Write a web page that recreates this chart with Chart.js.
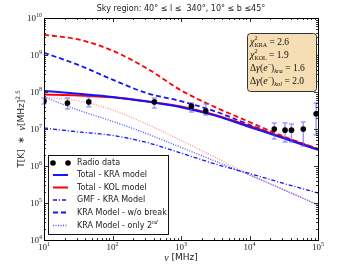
<!DOCTYPE html>
<html>
<head>
<meta charset="utf-8">
<script src="https://cdn.jsdelivr.net/npm/chart.js@4"></script>
<style>
html,body{margin:0;padding:0;background:#fff}
canvas{display:block}
</style>
</head>
<body>
<canvas id="chart" width="354" height="266"></canvas>
<script>
// radio data points (MHz, T*nu^2.5) with error range
const radioFreq = [10, 22, 45, 408, 1420, 2300, 23000, 33000, 41000, 61000, 94000]
const radioT = [5.7e7, 5.06e7, 5.4e7, 5.4e7, 4.15e7, 3.05e7, 9.95e6, 9.3e6, 9.3e6, 9.95e6, 2.56e7]
const radioHi = [6.9e7, 6.9e7, 7.35e7, 6.9e7, 5.06e7, 4.73e7, 1.45e7, 1.45e7, 1.36e7, 1.55e7, 5.06e7]
const radioLo = [4.73e7, 3.48e7, 3.97e7, 3.72e7, 2.86e7, 2.4e7, 5.38e6, 4.42e6, 4.42e6, 3.47e6, 6.85e6]

// model curves, read every half decade
const modelFreq = [10, 31.6, 100, 316, 1000, 3160, 10000, 31600, 100000]
const totalKRA = [1.07e8, 8.95e7, 7.35e7, 5.52e7, 3.89e7, 2.3e7, 1.135e7, 5.62e6, 2.72e6]
const totalKOL = [8.6e7, 8.1e7, 7.19e7, 5.65e7, 4.06e7, 2.4e7, 1.21e7, 5.87e6, 2.84e6]
const gmfKRA = [1.064e7, 8.36e6, 6.7e6, 4.33e6, 2.23e6, 1.13e6, 6.25e5, 3.38e5, 1.87e5]
const kraNoBreak = [1.146e9, 5.42e8, 2.16e8, 9.35e7, 5.65e7, 2.99e7, 1.3e7, 5.87e6, 2.79e6]
const kolNoBreak = [3.51e9, 2.64e9, 1.31e9, 4.36e8, 1.11e8, 3.89e7, 1.55e7, 6.28e6, 2.91e6]
const kraOnly2nd = [7.35e7, 3.26e7, 1.61e7, 7.48e6, 3.18e6, 1.35e6, 5.73e5, 2.28e5, 8.85e4]
const kolOnly2nd = [7.19e7, 5.77e7, 3.26e7, 1.36e7, 4.93e6, 1.72e6, 5.85e5, 2.28e5, 8.85e4]

const xTicks = [10, 100, 1000, 10000, 100000]
const yTicks = [1e4, 1e5, 1e6, 1e7, 1e8, 1e9, 1e10]

const titleText = "Sky region: 40° ≤ l ≤  340°, 10° ≤ b ≤45°"

const SERIF = '"Liberation Serif", serif'
const SANS = '"DejaVu Sans", sans-serif'
const BLUE = "rgb(20,20,255)"
const RED = "rgb(255,0,0)"

const pts = (xs, ys)=>xs.map((x,i)=>({x:x, y:ys[i]}))

function lineSet(label, ys, color, width, dash){
    return {label, data:pts(modelFreq, ys), showLine:true, borderColor:color, borderWidth:width,
        borderDash:dash||[], pointRadius:0, cubicInterpolationMode:"monotone", fill:false}
}

const datasets = [
    {label:"Radio data", data:pts(radioFreq, radioT), showLine:false, pointRadius:2.8,
        pointBackgroundColor:"#000", pointBorderColor:"#000", pointBorderWidth:0},
    lineSet("Total - KRA model", totalKRA, BLUE, 2),
    lineSet("Total - KOL model", totalKOL, RED, 2),
    lineSet("GMF - KRA Model", gmfKRA, BLUE, 1.3, [4,2,1,2]),
    lineSet("KRA Model - w/o break", kraNoBreak, BLUE, 1.8, [5,3]),
    lineSet("KOL Model - w/o break", kolNoBreak, RED, 1.8, [5,3]),
    lineSet("KRA Model - only 2nd", kraOnly2nd, "rgba(40,40,255,0.8)", 1.3, [1,1.5]),
    lineSet("KOL Model - only 2nd", kolOnly2nd, "rgba(255,60,60,0.55)", 1.3, [1,1.5])
]

// draw "10^n" label
function powLabel(ctx, v, x, y, align){
    const e = String(Math.round(Math.log10(v)))
    ctx.font = "9px " + SERIF
    const w1 = ctx.measureText("10").width
    ctx.font = "6px " + SERIF
    const w2 = ctx.measureText(e).width
    const x0 = align === "right" ? x - w1 - w2 : x - (w1 + w2) / 2
    ctx.textAlign = "left"
    ctx.textBaseline = "middle"
    ctx.fillStyle = "#222"
    ctx.font = "9px " + SERIF
    ctx.fillText("10", x0, y)
    ctx.font = "6px " + SERIF
    ctx.fillText(e, x0 + w1, y - 4)
}

// rich text: parts are {t, f, dy} or {sup, sub, f}
function richWidth(ctx, parts){
    let w = 0
    parts.forEach(p=>{
        ctx.font = p.f
        if(p.t !== undefined) w += ctx.measureText(p.t).width
        else w += Math.max(ctx.measureText(p.sup||"").width, ctx.measureText(p.sub||"").width)
    })
    return w
}
function drawRich(ctx, parts, x, y){
    ctx.textAlign = "left"
    ctx.textBaseline = "middle"
    parts.forEach(p=>{
        ctx.font = p.f
        if(p.t !== undefined){
            ctx.fillText(p.t, x, y + (p.dy||0))
            x += ctx.measureText(p.t).width
        }else{
            if(p.sup) ctx.fillText(p.sup, x, y - 4)
            if(p.sub) ctx.fillText(p.sub, x, y + 3.5)
            x += Math.max(ctx.measureText(p.sup||"").width, ctx.measureText(p.sub||"").width)
        }
    })
}

const decor = {
    id:"decor",
    beforeDatasetDraw(chart, args){
        if(args.index !== 0) return
        const ctx = chart.ctx, xs = chart.scales.x, ys = chart.scales.y
        ctx.save()
        ctx.strokeStyle = "rgba(90,90,255,0.6)"
        ctx.lineWidth = 1.5
        radioFreq.forEach((f,i)=>{
            const px = xs.getPixelForValue(f)
            const top = ys.getPixelForValue(radioHi[i]), bot = ys.getPixelForValue(radioLo[i])
            ctx.beginPath()
            ctx.moveTo(px, top); ctx.lineTo(px, bot)
            ctx.moveTo(px-2.5, top); ctx.lineTo(px+2.5, top)
            ctx.moveTo(px-2.5, bot); ctx.lineTo(px+2.5, bot)
            ctx.stroke()
        })
        ctx.restore()
    },
    afterDraw(chart){
        const ctx = chart.ctx, xs = chart.scales.x, ys = chart.scales.y
        const a = chart.chartArea
        ctx.save()
        // frame
        ctx.strokeStyle = "#000"
        ctx.lineWidth = 1
        ctx.strokeRect(Math.round(a.left)+0.5, Math.round(a.top)+0.5, Math.round(a.right-a.left), Math.round(a.bottom-a.top))
        // inward ticks on all sides
        ctx.lineWidth = 0.8
        ctx.beginPath()
        for(let d=1; d<=5; d++){
            for(let k=1; k<=9; k++){
                const v = k*Math.pow(10,d)
                if(v > 1e5) break
                const px = Math.round(xs.getPixelForValue(v))+0.5
                const len = k===1 ? 4 : 2
                ctx.moveTo(px, a.bottom); ctx.lineTo(px, a.bottom-len)
                ctx.moveTo(px, a.top); ctx.lineTo(px, a.top+len)
            }
        }
        for(let d=4; d<=10; d++){
            for(let k=1; k<=9; k++){
                const v = k*Math.pow(10,d)
                if(v > 1e10) break
                const py = Math.round(ys.getPixelForValue(v))+0.5
                const len = k===1 ? 4 : 2
                ctx.moveTo(a.left, py); ctx.lineTo(a.left+len, py)
                ctx.moveTo(a.right, py); ctx.lineTo(a.right-len, py)
            }
        }
        ctx.stroke()
        // tick labels
        yTicks.forEach(v=>powLabel(ctx, v, a.left-2, ys.getPixelForValue(v)+1, "right"))
        xTicks.forEach(v=>powLabel(ctx, v, xs.getPixelForValue(v), a.bottom+8, "center"))

        ctx.fillStyle = "#222"
        // title
        ctx.font = "8px " + SANS
        ctx.textAlign = "center"
        ctx.textBaseline = "middle"
        ctx.fillText(titleText, (a.left+a.right)/2, 9)
        // x label
        const xl = [{t:"ν", f:"italic 10px " + SERIF}, {t:" [MHz]", f:"9px " + SANS}]
        drawRich(ctx, xl, (a.left+a.right)/2 - richWidth(ctx, xl)/2, 258)
        // y label
        const yl = [{t:"T[K]  ∗  ", f:"9px " + SANS}, {t:"ν", f:"italic 10px " + SERIF},
            {t:"[MHz]", f:"9px " + SANS}, {t:"2.5", f:"6px " + SANS, dy:-4}]
        ctx.save()
        ctx.translate(22, (a.top+a.bottom)/2)
        ctx.rotate(-Math.PI/2)
        drawRich(ctx, yl, -richWidth(ctx, yl)/2, 0)
        ctx.restore()

        // legend
        const lx = 48, ly = 155, lw = 120, lh = 79
        ctx.fillStyle = "#fff"
        ctx.fillRect(lx, ly, lw, lh)
        ctx.strokeStyle = "#111"
        ctx.lineWidth = 1
        ctx.strokeRect(lx+0.5, ly+0.5, lw, lh)
        const rows = [163, 175, 187.5, 200, 212.5, 225.5]
        const order = [0, 1, 2, 3, 4, 6]
        order.forEach((di, r)=>{
            const ds = datasets[di], y = rows[r]
            if(di === 0){
                ctx.fillStyle = "#000"
                ;[53, 68].forEach(cx=>{ctx.beginPath(); ctx.arc(cx, y, 2.8, 0, Math.PI*2); ctx.fill()})
            }else{
                ctx.strokeStyle = ds.borderColor
                ctx.lineWidth = ds.borderWidth
                ctx.setLineDash(ds.borderDash)
                ctx.beginPath(); ctx.moveTo(53, y); ctx.lineTo(68, y); ctx.stroke()
                ctx.setLineDash([])
            }
            ctx.fillStyle = "#222"
            if(di === 6){
                drawRich(ctx, [{t:"KRA Model - only 2", f:"8px " + SANS}, {t:"nd", f:"italic 5.5px " + SERIF, dy:-3}], 77, y)
            }else{
                drawRich(ctx, [{t:ds.label, f:"8px " + SANS}], 77, y)
            }
        })

        // fit summary box
        const bx = 247, by = 33, bw = 69, bh = 58
        ctx.beginPath()
        ctx.roundRect(bx+0.5, by+0.5, bw, bh, 3)
        ctx.fillStyle = "rgb(245,222,179)"
        ctx.fill()
        ctx.strokeStyle = "#333"
        ctx.lineWidth = 1
        ctx.stroke()
        ctx.fillStyle = "#111"
        const big = "9.5px " + SERIF, it = "italic 10px " + SERIF, sm = "6px " + SERIF, smi = "italic 6.5px " + SERIF
        const lines = [
            [{t:"χ", f:it}, {sup:"2", sub:"KRA", f:sm}, {t:" = 2.6", f:big}],
            [{t:"χ", f:it}, {sup:"2", sub:"KOL", f:sm}, {t:" = 1.9", f:big}],
            [{t:"Δ", f:big}, {t:"γ", f:it}, {t:"(", f:big}, {t:"e", f:it}, {t:"−", f:sm, dy:-4}, {t:")", f:big}, {t:"kra", f:smi, dy:3}, {t:" = 1.6", f:big}],
            [{t:"Δ", f:big}, {t:"γ", f:it}, {t:"(", f:big}, {t:"e", f:it}, {t:"−", f:sm, dy:-4}, {t:")", f:big}, {t:"kol", f:smi, dy:3}, {t:" = 2.0", f:big}]
        ]
        const ly2 = [42, 55, 68, 81]
        lines.forEach((p,i)=>drawRich(ctx, p, 250, ly2[i]))
        ctx.restore()
    }
}

new Chart(document.getElementById("chart"), {
    type:"scatter",
    data:{datasets},
    options:{
        responsive:false,
        animation:false,
        devicePixelRatio:1,
        layout:{padding:{top:18, right:36, left:0, bottom:0}},
        plugins:{legend:{display:false}, tooltip:{enabled:false}, title:{display:false}},
        scales:{
            x:{type:"logarithmic", min:10, max:1e5,
                ticks:{display:false}, grid:{display:false}, border:{display:false},
                afterFit:s=>{s.height = 26}},
            y:{type:"logarithmic", min:1e4, max:1e10,
                ticks:{display:false}, grid:{display:false}, border:{display:false},
                afterFit:s=>{s.width = 44}}
        }
    },
    plugins:[decor]
})
</script>
</body>
</html>
